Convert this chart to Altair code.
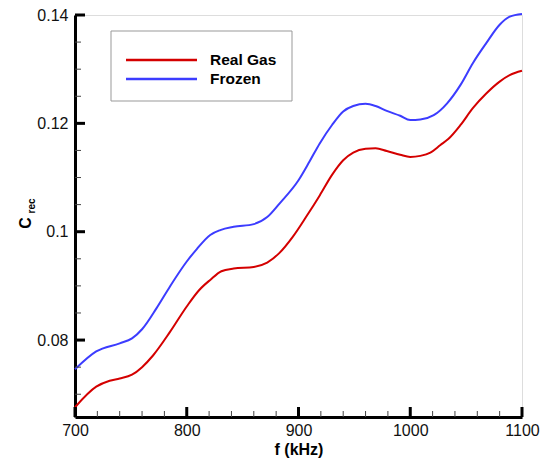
import altair as alt
import pandas as pd

# ---- data ----
real_f = [700, 719, 731, 740, 751, 760, 770, 785, 800, 811, 821, 831, 842, 860, 872,
          883, 895, 907, 919, 930, 940, 949, 960, 969, 979, 991, 1000, 1009, 1018,
          1027, 1034, 1045, 1056, 1068, 1080, 1089, 1100]
real_c = [0.0676, 0.0714, 0.0725, 0.0729, 0.0736, 0.0750, 0.0772, 0.0815, 0.0862,
          0.0892, 0.0911, 0.0927, 0.0932, 0.0935, 0.0943, 0.0961, 0.0991, 0.1028,
          0.1067, 0.1105, 0.1132, 0.1146, 0.1153, 0.1154, 0.1149, 0.1142, 0.1138,
          0.1140, 0.1146, 0.1160, 0.1171, 0.1197, 0.1228, 0.1255, 0.1277, 0.1289,
          0.1297]

frozen_f = [700, 719, 740, 751, 760, 773, 785, 800, 809, 821, 830, 842, 860, 872, 883,
            900, 910, 919, 930, 940, 949, 960, 969, 979, 991, 1000, 1009, 1021, 1033,
            1045, 1056, 1068, 1080, 1089, 1100]
frozen_c = [0.0746, 0.0779, 0.0794, 0.0803, 0.0820, 0.0859, 0.0899, 0.0945, 0.0968,
            0.0994, 0.1003, 0.1009, 0.1014, 0.1027, 0.1052, 0.1095, 0.1130, 0.1163,
            0.1197, 0.1222, 0.1232, 0.1236, 0.1232, 0.1223, 0.1214, 0.1206, 0.1207,
            0.1215, 0.1237, 0.1271, 0.1311, 0.1348, 0.1382, 0.1397, 0.1402]

series_names = ["Real Gas", "Frozen"]
series_colors = ["#d40000", "#3c3cff"]

x_major = [700, 800, 900, 1000, 1100]
x_minor = [720, 740, 760, 780, 820, 840, 860, 880, 920, 940, 960, 980,
           1020, 1040, 1060, 1080]
y_major = [0.08, 0.10, 0.12, 0.14]
y_minor = [0.07, 0.075, 0.085, 0.09, 0.095, 0.105, 0.11, 0.115, 0.125, 0.13, 0.135]

x_domain = [700, 1100]
y_domain = [0.0658, 0.14]

W, H = 447, 402
FONT = "Liberation Sans"

df = pd.concat([
    pd.DataFrame({"f": real_f, "c": real_c, "series": series_names[0]}),
    pd.DataFrame({"f": frozen_f, "c": frozen_c, "series": series_names[1]}),
])

xs = alt.Scale(domain=x_domain, nice=False, zero=False)
ys = alt.Scale(domain=y_domain, nice=False, zero=False)

curves = alt.Chart(df).mark_line(strokeWidth=2, interpolate="monotone").encode(
    x=alt.X("f:Q", scale=xs,
            axis=alt.Axis(values=x_major, format="d", title="f (kHz)", grid=False,
                          ticks=False, tickSize=0, labelPadding=5, labelFlush=False,
                          labelOverlap=False,
                          domainWidth=3, domainColor="black",
                          labelFont=FONT, labelFontSize=16, labelColor="#111",
                          titleFont=FONT, titleFontSize=16, titleFontWeight="bold",
                          titlePadding=3, titleColor="black")),
    y=alt.Y("c:Q", scale=ys,
            axis=alt.Axis(values=y_major, format="~g", title=None, grid=False,
                          ticks=False, tickSize=0, labelPadding=7, labelFlush=False,
                          labelOverlap=False,
                          domainWidth=3, domainColor="black",
                          labelFont=FONT, labelFontSize=16, labelColor="#111")),
    color=alt.Color("series:N", scale=alt.Scale(domain=series_names, range=series_colors),
                    legend=None),
    detail="series:N",
)

xmaj = alt.Chart(pd.DataFrame({"f": x_major})).mark_rule(strokeWidth=3, color="black").encode(
    x=alt.X("f:Q", scale=xs), y=alt.value(H), y2=alt.value(H - 10))
xmin = alt.Chart(pd.DataFrame({"f": x_minor})).mark_rule(strokeWidth=1, color="#444").encode(
    x=alt.X("f:Q", scale=xs), y=alt.value(H), y2=alt.value(H - 6))
ymaj = alt.Chart(pd.DataFrame({"c": y_major})).mark_rule(strokeWidth=3, color="black").encode(
    y=alt.Y("c:Q", scale=ys), x=alt.value(0), x2=alt.value(10))
ymin = alt.Chart(pd.DataFrame({"c": y_minor})).mark_rule(strokeWidth=1, color="#444").encode(
    y=alt.Y("c:Q", scale=ys), x=alt.value(0), x2=alt.value(6))

# y-axis title C_rec
ytitle_c = alt.Chart(pd.DataFrame({"t": ["C"]})).mark_text(
    angle=270, font=FONT, fontSize=16, fontWeight="bold", align="center",
    baseline="middle", color="black").encode(
    text="t:N", x=alt.value(-49), y=alt.value(208))
ytitle_sub = alt.Chart(pd.DataFrame({"t": ["rec"]})).mark_text(
    angle=270, font=FONT, fontSize=10, fontWeight="bold", align="center",
    baseline="middle", color="black").encode(
    text="t:N", x=alt.value(-43), y=alt.value(191))

# legend box
legend_box = alt.Chart(pd.DataFrame({"a": [0]})).mark_rect(
    fill="white", stroke="#999999", strokeWidth=1).encode(
    x=alt.value(36), x2=alt.value(217), y=alt.value(16), y2=alt.value(86))
leg_layers = []
for name, col, py in zip(series_names, series_colors, [45, 64]):
    leg_layers.append(alt.Chart(pd.DataFrame({"t": [name]})).mark_rule(
        strokeWidth=2.5, color=col).encode(
        x=alt.value(51), x2=alt.value(122), y=alt.value(py)))
    leg_layers.append(alt.Chart(pd.DataFrame({"t": [name]})).mark_text(
        font=FONT, fontSize=15.5, fontWeight="bold", align="left", baseline="middle",
        color="black").encode(text="t:N", x=alt.value(135), y=alt.value(py)))

chart = alt.layer(
    curves, xmin, xmaj, ymin, ymaj, ytitle_c, ytitle_sub, legend_box, *leg_layers
).properties(
    width=W, height=H,
    autosize=alt.AutoSizeParams(type="none"),
    padding={"left": 75, "top": 15, "right": 18, "bottom": 45},
).configure_view(stroke=None).configure(background="white")

chart.save("out.html", embed_options={"renderer": "svg", "actions": False})
